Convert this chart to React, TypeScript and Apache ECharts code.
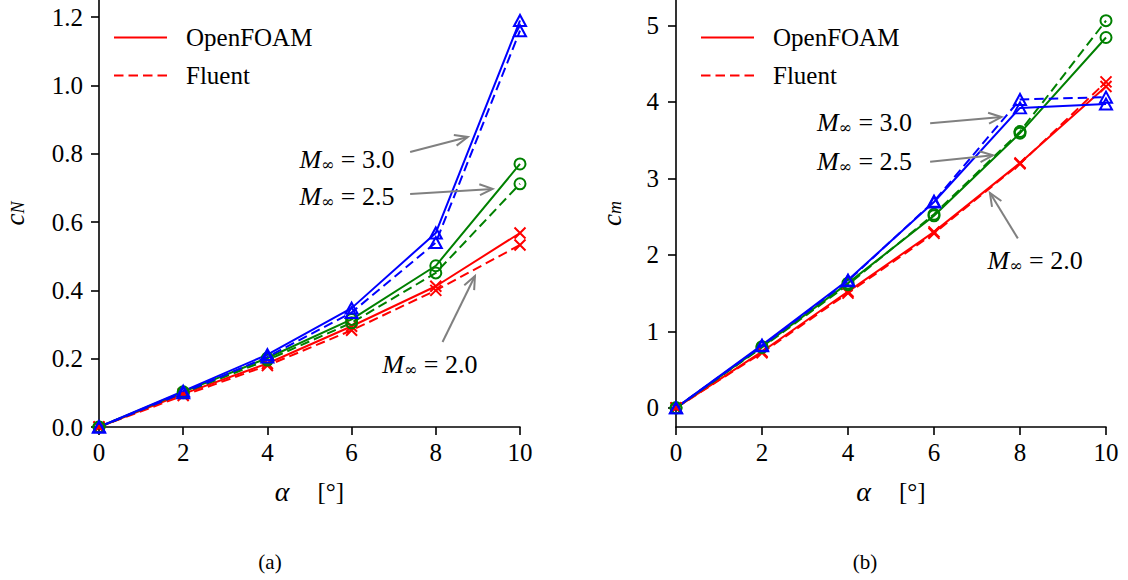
import React, { useEffect, useRef } from "react";
import * as echarts from "echarts";

// ---------- data ----------
const alpha = [0, 2, 4, 6, 8, 10];

const cnOpenFoam20 = [0, 0.097, 0.186, 0.295, 0.412, 0.568];
const cnFluent20 = [0, 0.092, 0.18, 0.283, 0.4, 0.533];
const cnOpenFoam25 = [0, 0.103, 0.202, 0.315, 0.472, 0.77];
const cnFluent25 = [0, 0.1, 0.196, 0.305, 0.451, 0.712];
const cnOpenFoam30 = [0, 0.105, 0.212, 0.348, 0.568, 1.19];
const cnFluent30 = [0, 0.1, 0.205, 0.335, 0.54, 1.16];

const cmOpenFoam20 = [0, 0.735, 1.52, 2.3, 3.2, 4.2];
const cmFluent20 = [0, 0.72, 1.5, 2.28, 3.19, 4.26];
const cmOpenFoam25 = [0, 0.8, 1.63, 2.51, 3.59, 4.84];
const cmFluent25 = [0, 0.79, 1.61, 2.53, 3.61, 5.06];
const cmOpenFoam30 = [0, 0.82, 1.67, 2.69, 3.92, 3.97];
const cmFluent30 = [0, 0.81, 1.66, 2.7, 4.03, 4.06];

const cnTicks = [0, 0.2, 0.4, 0.6, 0.8, 1.0, 1.2];
const cmTicks = [0, 1, 2, 3, 4, 5];

const machLabels = ["3.0", "2.5", "2.0"];
// annotation anchors in data coordinates
const cnTextAt = [[7.02, 0.782], [7.02, 0.674], [7.86, 0.182]];
const cnArrowFrom = [[7.39, 0.805], [7.39, 0.682], [8.16, 0.249]];
const cnArrowTo = [[8.76, 0.849], [9.35, 0.697], [8.93, 0.442]];
const cmTextAt = [[5.49, 3.73], [5.49, 3.215], [8.35, 1.93]];
const cmArrowFrom = [[5.91, 3.72], [5.91, 3.215], [7.95, 2.215]];
const cmArrowTo = [[7.57, 3.8], [7.37, 3.3], [7.3, 2.81]];
const textAlign = ["right", "right", "center"];

const FONT = "'Liberation Serif', 'DejaVu Serif', serif";
const RED = "#ff0000";
const GREEN = "#008000";
const BLUE = "#0000ff";
const GRAY = "#808080";
const DASH = [9.5, 5];

const SYM_X = "path://M0 0L10 10M10 0L0 10";
const SYM_O = "path://M10 5A5 5 0 1 1 0 5A5 5 0 1 1 10 5Z";
const SYM_T = "path://M5 0L10 9L0 9Z";

function pairs(ys: number[]) {
  return alpha.map((x, i) => [x, ys[i]]);
}

function mk(name: string, ys: number[], color: string, dashed: boolean, sym: string, gi: number) {
  return {
    name,
    type: "line",
    xAxisIndex: gi,
    yAxisIndex: gi,
    data: pairs(ys),
    symbol: sym,
    symbolSize: sym === SYM_T ? [12, 11] : 11,
    showAllSymbol: true,
    lineStyle: { color, width: 2, type: dashed ? DASH : "solid" },
    itemStyle: { color: "rgba(0,0,0,0)", borderColor: color, borderWidth: 2 },
    emphasis: { disabled: true },
    z: 3,
  };
}

export default function App() {
  const ref = useRef<HTMLDivElement>(null);
  useEffect(() => {
    if (!ref.current) return;
    const chart = echarts.init(ref.current, undefined, { renderer: "svg" });

    const axisCommon = {
      axisLine: { onZero: false, lineStyle: { color: "#000", width: 1.6 } },
      axisTick: { length: 8, lineStyle: { color: "#000", width: 1.6 } },
      splitLine: { show: false },
    };

    const xAxis = (gi: number) => ({
      type: "value",
      gridIndex: gi,
      min: 0,
      max: 10,
      interval: 2,
      ...axisCommon,
      axisLabel: { fontSize: 25, fontFamily: FONT, color: "#000", margin: 13 },
      name: "{a|α}{g| }{b|[°]}",
      nameLocation: "middle",
      nameGap: 50,
      nameTextStyle: {
        rich: {
          a: { fontSize: 28, fontStyle: "italic", fontFamily: FONT, color: "#000" },
          g: { width: 28, fontSize: 24 },
          b: { fontSize: 25, fontFamily: FONT, color: "#000" },
        },
      },
    });

    const yName = (sub: string) => ({
      name: "{c|c}{s|" + sub + "}",
      nameLocation: "middle",
      nameRotate: 90,
      nameTextStyle: {
        rich: {
          c: { fontSize: 27, fontStyle: "italic", fontFamily: FONT, color: "#000", lineHeight: 26, verticalAlign: "top" },
          s: { fontSize: 18, fontStyle: "italic", fontFamily: FONT, color: "#000", lineHeight: 14, verticalAlign: "bottom" },
        },
      },
    });

    const legend = (left: number) => ({
      orient: "vertical",
      left,
      top: 20,
      data: ["OpenFOAM", "Fluent"],
      itemWidth: 53,
      itemHeight: 14,
      itemGap: 13,
      selectedMode: false,
      itemStyle: { opacity: 0 },
      lineStyle: { width: 2 },
      textStyle: { fontSize: 25, fontFamily: FONT, color: "#000", padding: [0, 0, 0, 14] },
    });

    const option: any = {
      animation: false,
      backgroundColor: "#fff",
      grid: [
        { left: 91, top: 0, width: 429, height: 427 },
        { left: 676, top: 0, width: 430, height: 427 },
      ],
      legend: [legend(108), legend(695)],
      xAxis: [xAxis(0), xAxis(1)],
      yAxis: [
        {
          type: "value",
          gridIndex: 0,
          min: 0,
          max: 1.25,
          ...axisCommon,
          axisTick: { ...axisCommon.axisTick, customValues: cnTicks },
          axisLabel: {
            customValues: cnTicks,
            fontSize: 25,
            fontFamily: FONT,
            color: "#000",
            margin: 16,
            formatter: (v: number) => v.toFixed(1),
          },
          ...yName("N"),
          nameGap: 72,
        },
        {
          type: "value",
          gridIndex: 1,
          min: -0.25,
          max: 5.33,
          ...axisCommon,
          axisTick: { ...axisCommon.axisTick, customValues: cmTicks },
          axisLabel: {
            customValues: cmTicks,
            fontSize: 25,
            fontFamily: FONT,
            color: "#000",
            margin: 17,
            formatter: (v: number) => String(Math.round(v)),
          },
          ...yName("m"),
          nameGap: 52,
        },
      ],
      series: [
        {
          name: "OpenFOAM", type: "line", data: [], symbol: "none",
          xAxisIndex: 0, yAxisIndex: 0,
          lineStyle: { color: RED, width: 2 }, itemStyle: { color: RED },
        },
        {
          name: "Fluent", type: "line", data: [], symbol: "none",
          xAxisIndex: 0, yAxisIndex: 0,
          lineStyle: { color: RED, width: 2, type: DASH }, itemStyle: { color: RED },
        },
        mk("cN OpenFOAM M2.0", cnOpenFoam20, RED, false, SYM_X, 0),
        mk("cN Fluent M2.0", cnFluent20, RED, true, SYM_X, 0),
        mk("cN OpenFOAM M2.5", cnOpenFoam25, GREEN, false, SYM_O, 0),
        mk("cN Fluent M2.5", cnFluent25, GREEN, true, SYM_O, 0),
        mk("cN OpenFOAM M3.0", cnOpenFoam30, BLUE, false, SYM_T, 0),
        mk("cN Fluent M3.0", cnFluent30, BLUE, true, SYM_T, 0),
        mk("cm OpenFOAM M2.0", cmOpenFoam20, RED, false, SYM_X, 1),
        mk("cm Fluent M2.0", cmFluent20, RED, true, SYM_X, 1),
        mk("cm OpenFOAM M2.5", cmOpenFoam25, GREEN, false, SYM_O, 1),
        mk("cm Fluent M2.5", cmFluent25, GREEN, true, SYM_O, 1),
        mk("cm OpenFOAM M3.0", cmOpenFoam30, BLUE, false, SYM_T, 1),
        mk("cm Fluent M3.0", cmFluent30, BLUE, true, SYM_T, 1),
      ],
    };
    chart.setOption(option);

    const graphics: any[] = [];
    const rich = {
      m: { fontSize: 26, fontStyle: "italic", fontFamily: FONT, lineHeight: 26, verticalAlign: "top" },
      s: { fontSize: 16, fontFamily: "'DejaVu Serif', serif", lineHeight: 14, verticalAlign: "bottom" },
      t: { fontSize: 26, fontFamily: FONT, lineHeight: 26, verticalAlign: "top" },
    };
    const addPanel = (gi: number, textAt: number[][], from: number[][], to: number[][]) => {
      for (let i = 0; i < machLabels.length; i++) {
        const tp = chart.convertToPixel({ gridIndex: gi } as any, textAt[i]) as number[];
        graphics.push({
          type: "text",
          x: tp[0],
          y: tp[1],
          z: 10,
          style: {
            text: "{m|M}{s|∞}{t| = " + machLabels[i] + "}",
            rich,
            align: textAlign[i],
            verticalAlign: "middle",
            fill: "#000",
          },
        });
        const a = chart.convertToPixel({ gridIndex: gi } as any, from[i]) as number[];
        const b = chart.convertToPixel({ gridIndex: gi } as any, to[i]) as number[];
        const dx = b[0] - a[0];
        const dy = b[1] - a[1];
        const len = Math.hypot(dx, dy);
        const ux = dx / len;
        const uy = dy / len;
        const L = 13;
        const W = 5.5;
        graphics.push({
          type: "line",
          z: 10,
          shape: { x1: a[0], y1: a[1], x2: b[0], y2: b[1] },
          style: { stroke: GRAY, lineWidth: 2 },
        });
        graphics.push({
          type: "polyline",
          z: 10,
          shape: {
            points: [
              [b[0] - ux * L - uy * W, b[1] - uy * L + ux * W],
              [b[0], b[1]],
              [b[0] - ux * L + uy * W, b[1] - uy * L - ux * W],
            ],
          },
          style: { stroke: GRAY, lineWidth: 2, fill: null },
        });
      }
    };
    addPanel(0, cnTextAt, cnArrowFrom, cnArrowTo);
    addPanel(1, cmTextAt, cmArrowFrom, cmArrowTo);

    graphics.push({
      type: "text",
      x: 270,
      y: 562,
      style: { text: "(a)", fontSize: 21, fontFamily: FONT, fill: "#000", align: "center", verticalAlign: "middle" },
    });
    graphics.push({
      type: "text",
      x: 865,
      y: 562,
      style: { text: "(b)", fontSize: 21, fontFamily: FONT, fill: "#000", align: "center", verticalAlign: "middle" },
    });

    chart.setOption({ graphic: graphics });

    return () => chart.dispose();
  }, []);

  return (
    <div
      ref={ref}
      style={{ position: "absolute", left: 0, top: 0, width: 1128, height: 580, background: "#fff" }}
    />
  );
}
